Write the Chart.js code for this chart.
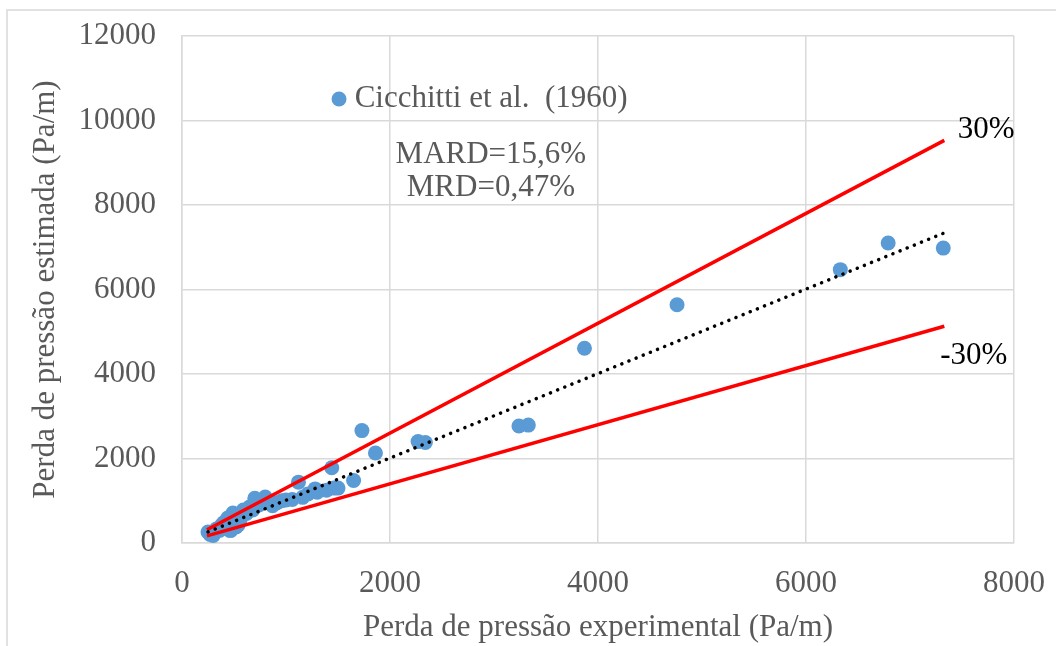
<!DOCTYPE html>
<html>
<head>
<meta charset="utf-8">
<script src="https://cdn.jsdelivr.net/npm/chart.js@4.4.1/dist/chart.umd.min.js"></script>
<style>
  html, body { margin: 0; padding: 0; background: #fff; }
  #wrap { width: 1056px; height: 646px; }
</style>
</head>
<body>
<div id="wrap"><canvas id="chart" width="1056" height="646"></canvas></div>
<script>
// ── Data ────────────────────────────────────────────────────────────────────
const EXP_X = [250, 270, 290, 300, 330, 360, 380, 400, 420, 440, 460, 470, 490, 510, 520, 540,
  560, 590, 620, 650, 680, 700, 740, 800, 830, 870, 910, 960, 1000, 1060, 1120, 1160, 1210,
  1280, 1300, 1390, 1440, 1460, 1500, 1650, 1730, 1860, 2270, 2340, 3240, 3330, 3870, 4760,
  6330, 6790, 7320];
const EST_Y = [260, 200, 240, 180, 330, 300, 420, 480, 380, 590, 300, 300, 710, 450, 380, 430,
  560, 780, 700, 850, 780, 1060, 900, 1090, 960, 880, 950, 1000, 1020, 1030, 1440, 1080, 1160,
  1280, 1200, 1250, 1780, 1300, 1300, 1480, 2660, 2130, 2400, 2380, 2770, 2790, 4610, 5640,
  6470, 7100, 6980];

// ±30% band lines and linear trend (end points)
const BAND_X   = [240, 7330];
const UPPER_Y  = [312, 9530];
const LOWER_Y  = [168, 5130];
const TREND_X  = [250, 7320];
const TREND_Y  = [262, 7330];

const X_TICKS = [0, 2000, 4000, 6000, 8000];
const Y_TICKS = [0, 2000, 4000, 6000, 8000, 10000, 12000];

const SERIES_NAME = 'Cicchitti et al.  (1960)';
const STATS = ['MARD=15,6%', 'MRD=0,47%'];

// ── Styles ───────────────────────────────────────────────────────────────────
const FONT = 'Liberation Serif, Times New Roman, serif';
const FSIZE = 31;
const GREY_TXT = '#595959';
const GRID = '#D9D9D9';
const BLUE = '#5B9BD5';
const RED = '#FF0000';

const pts = (xs, ys) => xs.map((x, i) => ({ x, y: ys[i] }));

// Text placed in data units so it follows the axes
const NOTES = [
  { text: '30%',  x: 7460, y: 9780, color: '#000', align: 'left' },
  { text: '-30%', x: 7290, y: 4430, color: '#000', align: 'left' },
  { text: STATS[0], x: 2970, y: 9180, color: GREY_TXT, align: 'center' },
  { text: STATS[1], x: 2970, y: 8400, color: GREY_TXT, align: 'center' },
];
const LEGEND_AT = { x: 1510, y: 10510, textX: 1660 };

const overlay = {
  id: 'overlay',
  beforeDraw(chart) {
    const c = chart.ctx;
    c.save();
    c.fillStyle = '#fff';
    c.fillRect(0, 0, chart.width, chart.height);
    c.strokeStyle = GRID;
    c.lineWidth = 1.5;
    c.beginPath();
    c.moveTo(7, chart.height);
    c.lineTo(7, 10);
    c.lineTo(chart.width, 10);
    c.stroke();
    c.restore();
  },
  afterDraw(chart) {
    const c = chart.ctx, xs = chart.scales.x, ys = chart.scales.y;
    c.save();
    c.font = FSIZE + 'px ' + FONT;
    c.textBaseline = 'middle';
    NOTES.forEach(n => {
      c.fillStyle = n.color;
      c.textAlign = n.align;
      c.fillText(n.text, xs.getPixelForValue(n.x), ys.getPixelForValue(n.y));
    });
    // legend entry
    c.fillStyle = BLUE;
    c.beginPath();
    c.arc(xs.getPixelForValue(LEGEND_AT.x), ys.getPixelForValue(LEGEND_AT.y), 7.5, 0, Math.PI * 2);
    c.fill();
    c.fillStyle = GREY_TXT;
    c.textAlign = 'left';
    c.fillText(SERIES_NAME, xs.getPixelForValue(LEGEND_AT.textX), ys.getPixelForValue(LEGEND_AT.y));
    c.restore();
  }
};

const tickFont = { family: FONT, size: FSIZE };
const plain = v => String(v);

new Chart(document.getElementById('chart'), {
  type: 'scatter',
  data: {
    datasets: [
      {
        label: 'trend', type: 'line', data: pts(TREND_X, TREND_Y),
        borderColor: '#000', borderWidth: 3.5, borderDash: [0.1, 7.6], borderCapStyle: 'round',
        pointRadius: 0, fill: false, order: 0
      },
      {
        label: '+30%', type: 'line', data: pts(BAND_X, UPPER_Y),
        borderColor: RED, borderWidth: 3.5, pointRadius: 0, fill: false, order: 1
      },
      {
        label: '-30%', type: 'line', data: pts(BAND_X, LOWER_Y),
        borderColor: RED, borderWidth: 3.5, pointRadius: 0, fill: false, order: 1
      },
      {
        label: SERIES_NAME, data: pts(EXP_X, EST_Y),
        backgroundColor: BLUE, borderWidth: 0, pointRadius: 7.5, pointHoverRadius: 7.5, order: 2
      }
    ]
  },
  options: {
    responsive: false,
    devicePixelRatio: 1,
    animation: false,
    layout: { padding: { top: 36, right: 42, left: 0, bottom: 0 } },
    plugins: { legend: { display: false }, tooltip: { enabled: false } },
    scales: {
      x: {
        type: 'linear', min: 0, max: 8000,
        afterBuildTicks: s => { s.ticks = X_TICKS.map(v => ({ value: v })); },
        afterFit: s => { s.height = 103; s.paddingLeft = 0; s.paddingRight = 0; },
        grid: { color: GRID, lineWidth: 1.5, drawTicks: false },
        border: { color: GRID, width: 1.5 },
        ticks: { color: GREY_TXT, font: tickFont, padding: 22, maxRotation: 0, callback: plain },
        title: { display: true, text: 'Perda de pressão experimental (Pa/m)', color: GREY_TXT,
                 font: tickFont, padding: { top: 0, bottom: 0 } }
      },
      y: {
        type: 'linear', min: 0, max: 12000,
        afterBuildTicks: s => { s.ticks = Y_TICKS.map(v => ({ value: v })); },
        afterFit: s => { s.width = 182; s.paddingTop = 0; s.paddingBottom = 0; },
        grid: { color: GRID, lineWidth: 1.5, drawTicks: false },
        border: { color: GRID, width: 1.5 },
        ticks: { color: GREY_TXT, font: tickFont, padding: 26, callback: plain },
        title: { display: true, text: 'Perda de pressão estimada (Pa/m)', color: GREY_TXT,
                 font: tickFont, padding: { top: 27, bottom: 0 } }
      }
    }
  },
  plugins: [overlay]
});
</script>
</body>
</html>
